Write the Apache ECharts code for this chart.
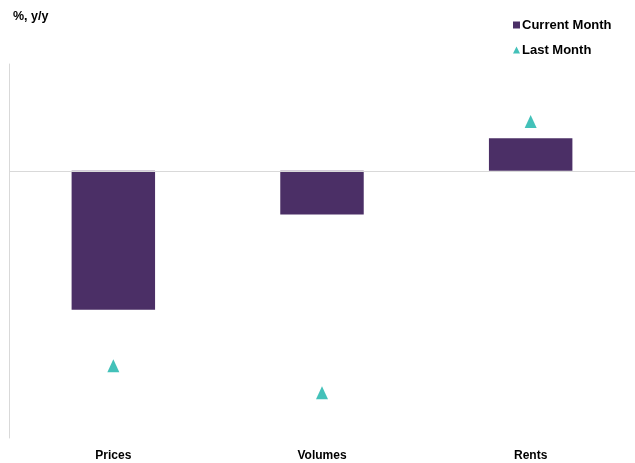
<!DOCTYPE html>
<html>
<head>
<meta charset="utf-8">
<script src="https://cdn.jsdelivr.net/npm/echarts@6/dist/echarts.min.js"></script>
<style>html,body{margin:0;padding:0;background:#fff}#c{width:635px;height:463px}</style>
</head>
<body>
<div id="c"></div>
<script>
const categories = ['Prices', 'Volumes', 'Rents'];
const currentMonth = [-5.2, -1.63, 1.22];
const lastMonth = [-7.3, -8.31, 1.85];
const yMin = -10, yMax = 4;

const chart = echarts.init(document.getElementById('c'), null, {renderer: 'canvas'});
const font = '"Liberation Sans", Arial, sans-serif';
chart.setOption({
  animation: false,
  textStyle: {fontFamily: font},
  title: {
    text: '%, y/y', left: 8, top: 5,
    textStyle: {fontSize: 12.5, fontWeight: 'bold', color: '#000', fontFamily: font}
  },
  legend: {
    orient: 'vertical', left: 508, top: 13, itemGap: 11,
    itemWidth: 7, itemHeight: 7,
    textStyle: {fontSize: 13, fontWeight: 'bold', color: '#000', fontFamily: font, padding: [0, 0, 0, -3], lineHeight: 14},
    data: [
      {name: 'Current Month', icon: 'rect'},
      {name: 'Last Month', icon: 'triangle'}
    ]
  },
  grid: {left: 9, right: 0, top: 64, bottom: 25, containLabel: false},
  xAxis: {
    type: 'category', data: categories,
    axisLine: {show: false, onZero: false},
    axisTick: {show: false},
    axisLabel: {fontSize: 12, fontWeight: 'bold', color: '#000', margin: 12, fontFamily: font},
    splitLine: {show: false}
  },
  yAxis: {
    type: 'value', min: yMin, max: yMax,
    axisLine: {show: true, lineStyle: {color: '#d9d9d9', width: 1}},
    axisTick: {show: false}, axisLabel: {show: false}, splitLine: {show: false}
  },
  series: [
    {
      name: 'Current Month', type: 'bar', data: currentMonth,
      barWidth: '40%',
      itemStyle: {color: '#4B2F66'},
      markLine: {
        silent: true, symbol: 'none', label: {show: false},
        lineStyle: {color: '#d9d9d9', width: 1, type: 'solid'},
        data: [{yAxis: 0}]
      },
      z: 2
    },
    {
      name: 'Last Month', type: 'scatter', data: lastMonth,
      symbol: 'triangle', symbolSize: [12, 13],
      itemStyle: {color: '#14B1A7'},
      z: 3
    }
  ]
});
</script>
</body>
</html>
